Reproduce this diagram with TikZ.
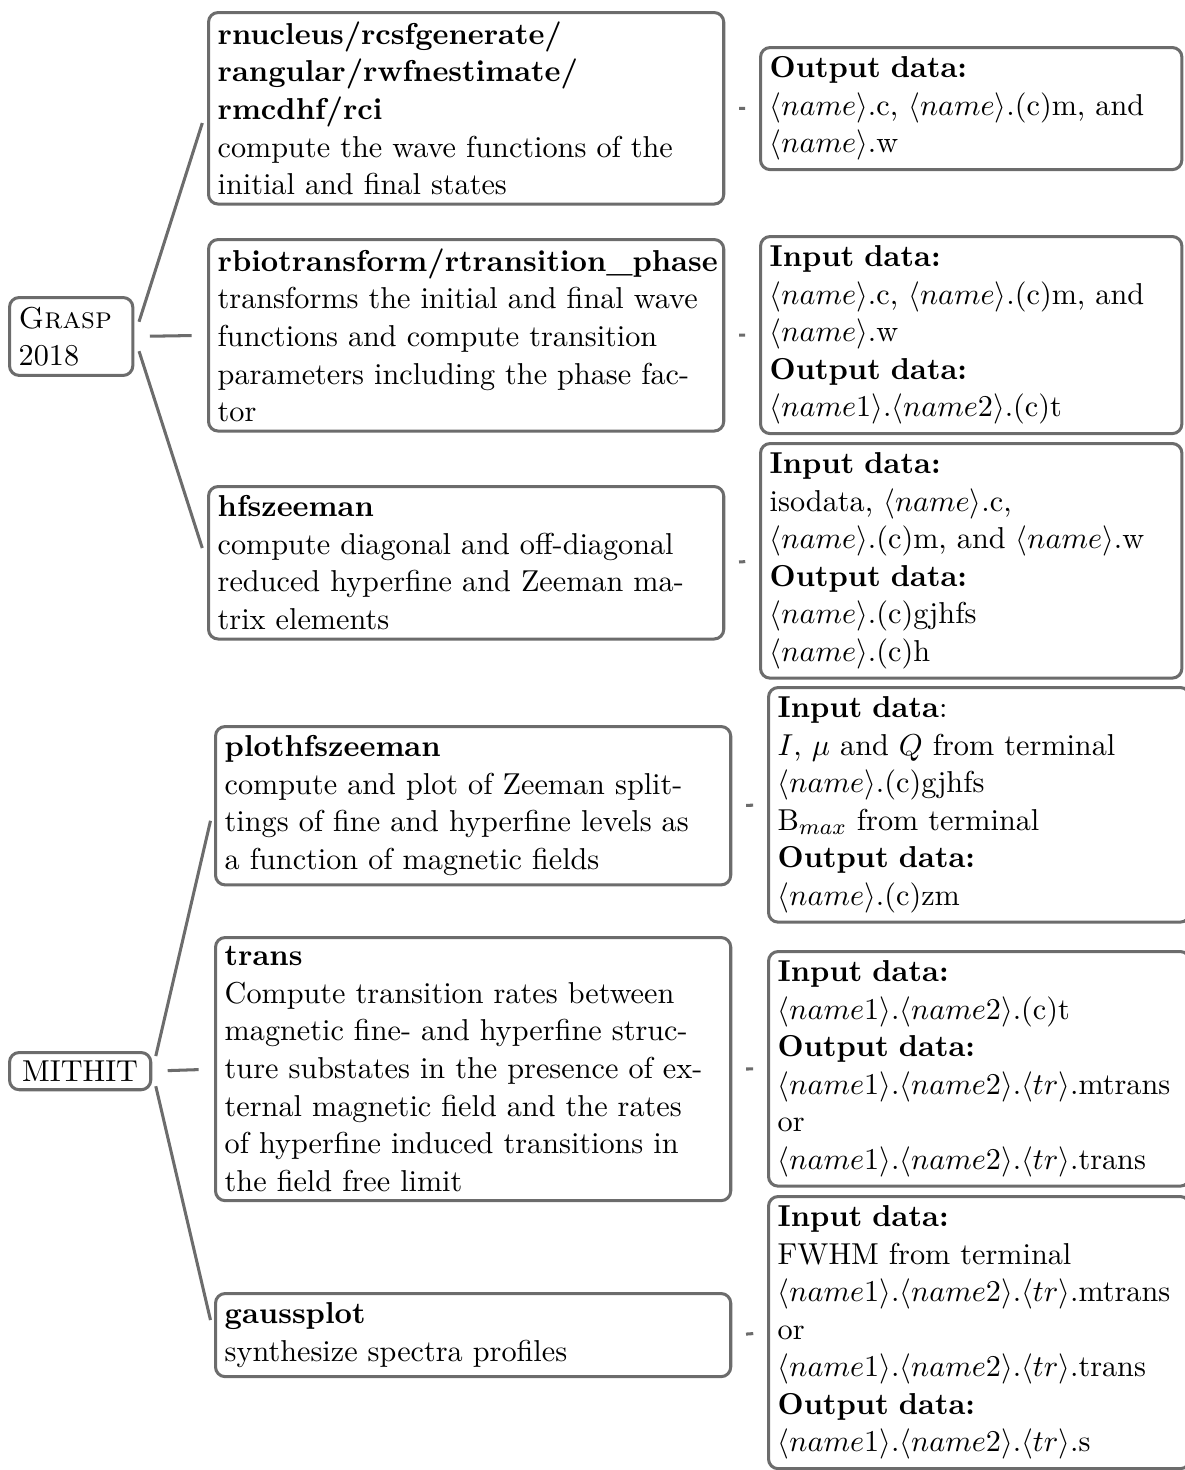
\documentclass[tikz,border=0pt]{standalone}
\definecolor{linegray}{RGB}{108,108,108}
\newcommand{\angl}[1]{$\langle #1\rangle$}
\begin{document}
\begin{tikzpicture}[x=0.3623pt, y=-0.3623pt,
  every node/.style={font=\fontsize{10.95}{13.6}\selectfont},
  box/.style={draw=linegray, line width=1.1pt, rounded corners=3.5pt, align=left, anchor=north west, inner sep=.3333em},
  lbox/.style={box, text width=180pt},
  rbox/.style={box, text width=146pt},
  conn/.style={draw=linegray, line width=1.1pt, shorten <=5.6pt, shorten >=5.6pt},
  dashconn/.style={draw=linegray, line width=1.1pt, shorten <=5pt, shorten >=5pt}]
\useasboundingbox (0,0) rectangle (1184,1470);

% roots
\node[box, text width=38pt] (G) at (8,296) {\textsc{Grasp}\\2018};
\node[box, inner xsep=4.6pt, inner ysep=3pt] (M) at (8,1051) {MITHIT};

% Grasp children
\node[lbox] (A) at (207,11) {\textbf{rnucleus/rcsfgenerate/}\\\textbf{rangular/rwfnestimate/}\\\textbf{rmcdhf/rci}\\compute the wave functions of the\\initial and final states};
\node[lbox] (B) at (207,238) {\textbf{rbiotransform/rtransition\_phase}\\transforms the initial and final wave\\functions and compute transition\\parameters including the phase fac-\\tor};
\node[lbox] (C) at (207,485) {\textbf{hfszeeman}\\compute diagonal and off-diagonal\\reduced hyperfine and Zeeman ma-\\trix elements};

\node[rbox] (RA) at (759,46) {\textbf{Output data:}\\\angl{name}.c, \angl{name}.(c)m, and\\\angl{name}.w};
\node[rbox] (RB) at (759,235) {\textbf{Input data:}\\\angl{name}.c, \angl{name}.(c)m, and\\\angl{name}.w\\\textbf{Output data:}\\\angl{name1}.\angl{name2}.(c)t};
\node[rbox] (RC) at (759,442) {\textbf{Input data:}\\isodata, \angl{name}.c,\\\angl{name}.(c)m, and \angl{name}.w\\\textbf{Output data:}\\\angl{name}.(c)gjhfs\\\angl{name}.(c)h};

% MITHIT children
\node[lbox] (D) at (214,725) {\textbf{plothfszeeman}\\compute and plot of Zeeman split-\\tings of fine and hyperfine levels as\\a function of magnetic fields};
\node[lbox] (E) at (214,936) {\textbf{trans}\\Compute transition rates between\\magnetic fine- and hyperfine struc-\\ture substates in the presence of ex-\\ternal magnetic field and the rates\\of hyperfine induced transitions in\\the field free limit};
\node[lbox] (F) at (214,1292) {\textbf{gaussplot}\\synthesize spectra profiles};

\node[rbox] (RD) at (767,686) {\textbf{Input data}:\\$I$, $\mu$ and $Q$ from terminal\\\angl{name}.(c)gjhfs\\B$_{max}$ from terminal\\\textbf{Output data:}\\\angl{name}.(c)zm};
\node[rbox] (RE) at (767,950) {\textbf{Input data:}\\\angl{name1}.\angl{name2}.(c)t\\\textbf{Output data:}\\\angl{name1}.\angl{name2}.\angl{tr}.mtrans\\or\\\angl{name1}.\angl{name2}.\angl{tr}.trans};
\node[rbox] (RF) at (767,1195) {\textbf{Input data:}\\FWHM from terminal\\\angl{name1}.\angl{name2}.\angl{tr}.mtrans\\or\\\angl{name1}.\angl{name2}.\angl{tr}.trans\\\textbf{Output data:}\\\angl{name1}.\angl{name2}.\angl{tr}.s};

% connectors
\foreach \c in {A,B,C} \draw[conn] (G.east) -- (\c.west);
\foreach \c in {D,E,F} \draw[conn] (M.east) -- (\c.west);
\draw[dashconn] (A.east) -- (RA.west);
\draw[dashconn] (B.east) -- (RB.west);
\draw[dashconn] (C.east) -- (RC.west);
\draw[dashconn] (D.east) -- (RD.west);
\draw[dashconn] (E.east) -- (RE.west);
\draw[dashconn] (F.east) -- (RF.west);
\end{tikzpicture}
\end{document}
